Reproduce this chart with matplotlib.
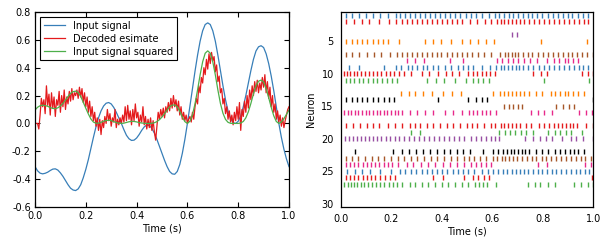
import numpy as np
import matplotlib
matplotlib.use("Agg")
import matplotlib.pyplot as plt

# ---------------- data ----------------
input_signal = [
    -0.31, -0.34, -0.357, -0.362, -0.358, -0.35, -0.338, -0.328, -0.326, -0.335,
    -0.355, -0.38, -0.41, -0.44, -0.465, -0.478, -0.482, -0.47, -0.44, -0.39,
    -0.33, -0.26, -0.18, -0.10, -0.025, 0.04, 0.09, 0.125, 0.145, 0.15,
    0.14, 0.115, 0.08, 0.04, 0.0, -0.045, -0.085, -0.11, -0.122, -0.12,
    -0.105, -0.08, -0.05, -0.025, -0.012, -0.015, -0.035, -0.07, -0.115, -0.165,
    -0.215, -0.265, -0.31, -0.345, -0.362, -0.365, -0.345, -0.295, -0.215, -0.115,
    0.0, 0.125, 0.25, 0.375, 0.49, 0.59, 0.665, 0.71, 0.722, 0.71,
    0.665, 0.59, 0.49, 0.38, 0.27, 0.17, 0.09, 0.035, 0.005, 0.0,
    0.015, 0.055, 0.12, 0.2, 0.29, 0.38, 0.46, 0.52, 0.55, 0.558,
    0.545, 0.5, 0.43, 0.34, 0.235, 0.12, 0.0, -0.1, -0.185, -0.255,
    -0.31]

signal_squared = [
    0.096, 0.116, 0.127, 0.131, 0.128, 0.123, 0.114, 0.108, 0.106, 0.112,
    0.126, 0.144, 0.168, 0.194, 0.216, 0.228, 0.232, 0.221, 0.194, 0.152,
    0.109, 0.068, 0.032, 0.010, 0.001, 0.002, 0.008, 0.016, 0.021, 0.023,
    0.020, 0.013, 0.006, 0.002, 0.0, 0.002, 0.007, 0.012, 0.015, 0.014,
    0.011, 0.006, 0.003, 0.001, 0.0, 0.0, 0.001, 0.005, 0.013, 0.027,
    0.046, 0.070, 0.096, 0.119, 0.131, 0.133, 0.119, 0.087, 0.046, 0.013,
    0.0, 0.016, 0.063, 0.141, 0.240, 0.348, 0.442, 0.504, 0.521, 0.504,
    0.442, 0.348, 0.240, 0.144, 0.073, 0.029, 0.008, 0.001, 0.0, 0.0,
    0.0, 0.003, 0.014, 0.040, 0.084, 0.144, 0.212, 0.270, 0.303, 0.311,
    0.297, 0.250, 0.185, 0.116, 0.055, 0.014, 0.0, 0.010, 0.034, 0.065,
    0.096]

decoded_estimate = [
    0.00, 0.00, 0.00, -0.04, 0.06, 0.18, 0.12, 0.17, 0.07, 0.27,
    0.13, 0.21, 0.06, 0.22, 0.11, 0.19, 0.05, 0.17, 0.13, 0.23,
    0.08, 0.20, 0.12, 0.24, 0.10, 0.19, 0.14, 0.23, 0.16, 0.25,
    0.17, 0.22, 0.20, 0.24, 0.18, 0.26, 0.19, 0.25, 0.15, 0.22,
    0.12, 0.19, 0.08, 0.16, 0.05, 0.12, 0.02, 0.08, -0.02, 0.04,
    -0.05, 0.03, -0.08, 0.02, -0.03, 0.05, 0.00, 0.10, 0.02, 0.07,
    -0.02, 0.04, 0.01, 0.10, -0.03, 0.03, -0.01, 0.04, 0.00, 0.06,
    0.01, 0.12, 0.02, 0.13, 0.03, 0.09, -0.01, 0.10, 0.02, 0.14,
    0.04, 0.08, -0.02, 0.06, 0.01, 0.12, -0.01, 0.05, -0.04, 0.03,
    -0.03, 0.04, -0.05, 0.02, -0.06, -0.12, -0.02, 0.08, 0.03, 0.10,
    0.05, 0.11, 0.04, 0.12, 0.08, 0.15, 0.09, 0.18, 0.11, 0.20,
    0.12, 0.17, 0.09, 0.16, 0.06, 0.12, 0.03, 0.08, 0.02, 0.06,
    0.00, 0.03, 0.05, 0.01, 0.08, 0.03, 0.12, 0.18, 0.14, 0.27,
    0.22, 0.33, 0.29, 0.40, 0.35, 0.46, 0.39, 0.50, 0.43, 0.51,
    0.45, 0.48, 0.37, 0.42, 0.30, 0.34, 0.22, 0.25, 0.14, 0.18,
    0.07, 0.12, 0.03, 0.09, 0.01, 0.06, -0.01, 0.08, 0.02, 0.12,
    0.03, 0.15, -0.05, 0.10, 0.05, 0.16, 0.08, 0.20, 0.11, 0.24,
    0.17, 0.27, 0.20, 0.30, 0.23, 0.31, 0.22, 0.29, 0.24, 0.33,
    0.26, 0.35, 0.22, 0.30, 0.18, 0.26, 0.12, 0.20, 0.08, 0.14,
    0.03, 0.09, 0.01, 0.06, -0.02, 0.04, -0.03, 0.02, 0.06, 0.10,
    0.12]

spike_times = {
    1: [0.022, 0.046, 0.074, 0.102, 0.129, 0.157, 0.189, 0.218, 0.236, 0.256,
        0.276, 0.296, 0.315, 0.335, 0.355, 0.375, 0.394, 0.414, 0.434, 0.454,
        0.474, 0.495, 0.515, 0.534, 0.559, 0.587, 0.609, 0.627, 0.645, 0.665,
        0.682, 0.702, 0.720, 0.740, 0.759, 0.778, 0.798, 0.819, 0.839, 0.859,
        0.879, 0.898, 0.917, 0.938, 0.958, 0.978],
    2: [0.022, 0.051, 0.083, 0.113, 0.153, 0.191, 0.219, 0.243, 0.262, 0.281,
        0.302, 0.322, 0.341, 0.362, 0.382, 0.402, 0.421, 0.441, 0.461, 0.482,
        0.512, 0.541, 0.571, 0.595, 0.618, 0.634, 0.648, 0.664, 0.680, 0.694,
        0.710, 0.727, 0.747, 0.767, 0.786, 0.805, 0.826, 0.846, 0.866, 0.884,
        0.904, 0.924, 0.943, 0.962, 0.980],
    4: [0.679, 0.698],
    5: [0.020, 0.043, 0.063, 0.084, 0.105, 0.127, 0.148, 0.167, 0.186, 0.231,
        0.332, 0.367, 0.399, 0.435, 0.479, 0.511, 0.542, 0.576, 0.605, 0.793,
        0.976],
    7: [0.022, 0.046, 0.074, 0.103, 0.131, 0.161, 0.196, 0.222, 0.243, 0.262,
        0.281, 0.301, 0.320, 0.340, 0.360, 0.380, 0.399, 0.419, 0.439, 0.459,
        0.479, 0.499, 0.519, 0.545, 0.567, 0.594, 0.631, 0.651, 0.664, 0.677,
        0.690, 0.703, 0.721, 0.740, 0.759, 0.780, 0.800, 0.819, 0.839, 0.859,
        0.879, 0.899, 0.917, 0.934, 0.957, 0.976, 0.997],
    8: [0.261, 0.294, 0.330, 0.431, 0.483, 0.618, 0.640, 0.661, 0.681, 0.701,
        0.727, 0.750, 0.776, 0.815, 0.844, 0.866, 0.886, 0.901, 0.921, 0.941],
    9: [0.031, 0.071, 0.172, 0.218, 0.239, 0.265, 0.284, 0.303, 0.324, 0.343,
        0.364, 0.384, 0.413, 0.435, 0.466, 0.485, 0.503, 0.523, 0.561, 0.591,
        0.615, 0.633, 0.648, 0.661, 0.677, 0.693, 0.706, 0.723, 0.743, 0.763,
        0.787, 0.806, 0.826, 0.845, 0.864, 0.885, 0.904, 0.922, 0.943, 0.961,
        0.980],
    10: [0.014, 0.026, 0.038, 0.051, 0.066, 0.080, 0.096, 0.112, 0.129, 0.145,
         0.161, 0.178, 0.195, 0.212, 0.231, 0.251, 0.278, 0.320, 0.351, 0.384,
         0.415, 0.440, 0.470, 0.505, 0.523, 0.541, 0.558, 0.574, 0.591, 0.611,
         0.763, 0.792, 0.818, 0.954, 0.980, 0.998],
    11: [0.020, 0.037, 0.054, 0.073, 0.090, 0.108, 0.127, 0.145, 0.165, 0.182,
         0.202, 0.222, 0.343, 0.377, 0.410, 0.452, 0.496, 0.525, 0.545, 0.565,
         0.589, 0.806, 0.982],
    13: [0.239, 0.271, 0.296, 0.325, 0.361, 0.406, 0.439, 0.478, 0.604, 0.631,
         0.648, 0.664, 0.679, 0.694, 0.710, 0.727, 0.747, 0.772, 0.798, 0.831,
         0.848, 0.868, 0.886, 0.901, 0.918, 0.938, 0.965],
    14: [0.022, 0.043, 0.064, 0.085, 0.106, 0.127, 0.149, 0.170, 0.191, 0.212,
         0.387, 0.505, 0.536, 0.558, 0.581, 0.997],
    15: [0.648, 0.668, 0.684, 0.701, 0.719, 0.852, 0.881, 0.904, 0.925],
    16: [0.013, 0.027, 0.042, 0.056, 0.070, 0.085, 0.099, 0.113, 0.127, 0.142,
         0.156, 0.170, 0.185, 0.199, 0.213, 0.228, 0.242, 0.275, 0.304, 0.334,
         0.367, 0.413, 0.446, 0.479, 0.509, 0.525, 0.541, 0.558, 0.574, 0.591,
         0.615, 0.753, 0.782, 0.805, 0.838, 0.945, 0.972, 0.994],
    18: [0.020, 0.047, 0.076, 0.103, 0.129, 0.153, 0.189, 0.215, 0.241, 0.274,
         0.294, 0.314, 0.340, 0.367, 0.393, 0.420, 0.446, 0.472, 0.499, 0.519,
         0.541, 0.569, 0.594, 0.611, 0.633, 0.648, 0.664, 0.679, 0.694, 0.710,
         0.732, 0.753, 0.786, 0.805, 0.826, 0.846, 0.862, 0.875, 0.891, 0.908,
         0.918, 0.937, 0.971, 0.998],
    19: [0.277, 0.314, 0.628, 0.651, 0.670, 0.690, 0.712, 0.734, 0.760, 0.822,
         0.848, 0.868, 0.891, 0.910, 0.957],
    20: [0.016, 0.032, 0.048, 0.064, 0.080, 0.095, 0.111, 0.127, 0.144, 0.161,
         0.179, 0.197, 0.214, 0.232, 0.252, 0.271, 0.290, 0.311, 0.330, 0.349,
         0.371, 0.390, 0.410, 0.430, 0.450, 0.469, 0.490, 0.514, 0.536, 0.554,
         0.574, 0.594, 0.611, 0.628, 0.730, 0.763, 0.789, 0.813, 0.835, 0.875,
         0.910, 0.931, 0.960, 0.998],
    22: [0.057, 0.208, 0.241, 0.270, 0.298, 0.324, 0.353, 0.380, 0.409, 0.433,
         0.459, 0.486, 0.512, 0.562, 0.602, 0.624, 0.644, 0.660, 0.674, 0.687,
         0.703, 0.716, 0.729, 0.746, 0.775, 0.795, 0.821, 0.848, 0.868, 0.888,
         0.908, 0.924, 0.941, 0.964],
    23: [0.020, 0.046, 0.070, 0.096, 0.123, 0.146, 0.171, 0.199, 0.226, 0.252,
         0.278, 0.303, 0.330, 0.356, 0.383, 0.409, 0.435, 0.462, 0.488, 0.508,
         0.528, 0.551, 0.575, 0.602, 0.620, 0.637, 0.651, 0.668, 0.683, 0.699,
         0.716, 0.736, 0.756, 0.773, 0.796, 0.813, 0.833, 0.852, 0.871, 0.891,
         0.910, 0.930, 0.950, 0.967, 0.990],
    24: [0.020, 0.037, 0.053, 0.070, 0.087, 0.103, 0.120, 0.137, 0.153, 0.170,
         0.187, 0.205, 0.226, 0.261, 0.288, 0.317, 0.347, 0.373, 0.404, 0.433,
         0.459, 0.488, 0.517, 0.536, 0.556, 0.574, 0.594, 0.782, 0.818, 0.967,
         0.991],
    25: [0.024, 0.057, 0.086, 0.116, 0.156, 0.198, 0.235, 0.255, 0.277, 0.298,
         0.321, 0.340, 0.360, 0.380, 0.401, 0.422, 0.443, 0.463, 0.483, 0.503,
         0.528, 0.561, 0.585, 0.604, 0.624, 0.641, 0.660, 0.677, 0.694, 0.710,
         0.727, 0.743, 0.763, 0.780, 0.798, 0.815, 0.835, 0.852, 0.871, 0.891,
         0.910, 0.930, 0.947, 0.967, 0.984],
    26: [0.020, 0.037, 0.053, 0.070, 0.087, 0.103, 0.120, 0.137, 0.156, 0.175,
         0.195, 0.216, 0.367, 0.406, 0.488, 0.523, 0.545, 0.567, 0.588, 0.994],
    27: [0.014, 0.027, 0.040, 0.053, 0.066, 0.080, 0.093, 0.108, 0.124, 0.140,
         0.157, 0.173, 0.190, 0.207, 0.223, 0.244, 0.273, 0.294, 0.320, 0.347,
         0.375, 0.400, 0.426, 0.452, 0.479, 0.503, 0.532, 0.549, 0.565, 0.581,
         0.615, 0.743, 0.771, 0.790, 0.819, 0.847, 0.925, 0.953, 0.978, 0.999],
}

neuron_colors = ["#377eb8", "#e41a1c", "#4daf4a", "#984ea3",
                 "#ff7f00", "#000000", "#a65628", "#e7298a"]

# ---------------- figure ----------------
plt.rcParams["font.family"] = ["DejaVu Sans"]
plt.rcParams["font.size"] = 7

fig = plt.figure(figsize=(6.08, 2.43), dpi=100)
ax1 = fig.add_axes([35 / 608, 1 - 207 / 243, 254 / 608, 195 / 243])
ax2 = fig.add_axes([340.7 / 608, 1 - 207 / 243, 252.6 / 608, 195 / 243])

t_sig = np.linspace(0, 1, len(input_signal))
t_dec = np.linspace(0, 1, len(decoded_estimate))

ax1.plot(t_sig, input_signal, color="#377eb8", lw=0.9, label="Input signal")
ax1.plot(t_dec, decoded_estimate, color="#e41a1c", lw=0.9, label="Decoded esimate")
ax1.plot(t_sig, signal_squared, color="#4daf4a", lw=0.9, label="Input signal squared")
ax1.set_xlim(0, 1)
ax1.set_ylim(-0.6, 0.8)
ax1.set_xticks(np.arange(0, 1.01, 0.2))
ax1.set_yticks(np.arange(-0.6, 0.81, 0.2))
ax1.xaxis.set_major_formatter(matplotlib.ticker.FormatStrFormatter("%.1f"))
ax1.yaxis.set_major_formatter(matplotlib.ticker.FormatStrFormatter("%.1f"))
ax1.tick_params(direction="in", top=True, right=True, length=3.5, width=0.8,
                labelsize=7, pad=3)
ax1.set_xlabel("Time (s)", fontsize=7, labelpad=2)
leg = ax1.legend(loc="upper left", fontsize=7, frameon=True, fancybox=False,
                 edgecolor="black", framealpha=1, handlelength=2.2,
                 borderaxespad=0.5, labelspacing=0.3, borderpad=0.4)
leg.get_frame().set_linewidth(0.8)

for n, times in spike_times.items():
    ax2.eventplot([times], lineoffsets=n, linelengths=0.75, linewidths=1.0,
                  colors=neuron_colors[(n - 1) % 8])
ax2.set_xlim(0, 1)
ax2.set_ylim(30.5, 0.5)
ax2.set_xticks(np.arange(0, 1.01, 0.2))
ax2.set_yticks([5, 10, 15, 20, 25, 30])
ax2.xaxis.set_major_formatter(matplotlib.ticker.FormatStrFormatter("%.1f"))
ax2.tick_params(length=0, labelsize=7, pad=5)
ax2.set_xlabel("Time (s)", fontsize=7, labelpad=2)
ax2.set_ylabel("Neuron", fontsize=7, labelpad=4)

for ax in (ax1, ax2):
    for s in ax.spines.values():
        s.set_linewidth(0.9)

fig.savefig("out.png", dpi=100)
